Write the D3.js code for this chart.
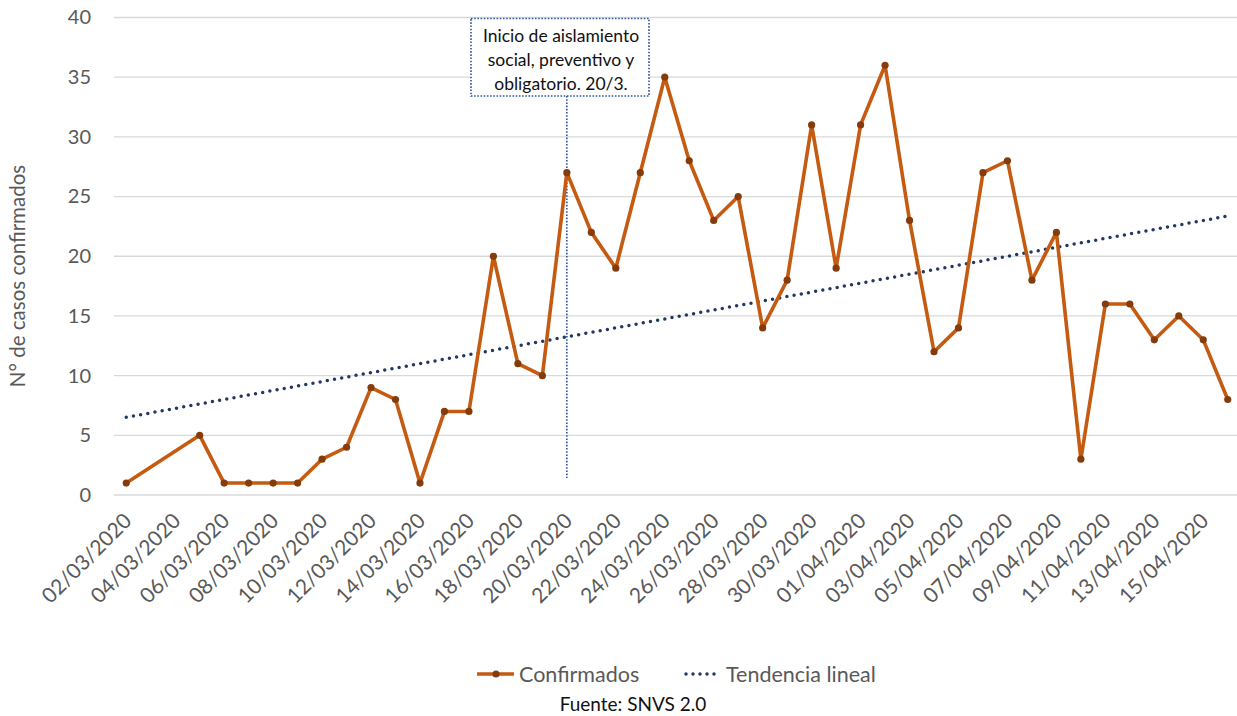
<!DOCTYPE html>
<html>
<head>
<meta charset="utf-8">
<script src="https://cdn.jsdelivr.net/npm/d3@7"></script>
<style>
  html, body { margin: 0; padding: 0; background: #fff; }
  svg { display: block; }
  text { font-family: Lato, "Open Sans", sans-serif; }
</style>
</head>
<body>
<svg id="chart" width="1237" height="716"></svg>
<script>
// Daily confirmed cases (dd/mm/yyyy)
const dates = [
  "02/03/2020", "05/03/2020", "06/03/2020", "07/03/2020", "08/03/2020", "09/03/2020",
  "10/03/2020", "11/03/2020", "12/03/2020", "13/03/2020", "14/03/2020", "15/03/2020",
  "16/03/2020", "17/03/2020", "18/03/2020", "19/03/2020", "20/03/2020", "21/03/2020",
  "22/03/2020", "23/03/2020", "24/03/2020", "25/03/2020", "26/03/2020", "27/03/2020",
  "28/03/2020", "29/03/2020", "30/03/2020", "31/03/2020", "01/04/2020", "02/04/2020",
  "03/04/2020", "04/04/2020", "05/04/2020", "06/04/2020", "07/04/2020", "08/04/2020",
  "09/04/2020", "10/04/2020", "11/04/2020", "12/04/2020", "13/04/2020", "14/04/2020",
  "15/04/2020", "16/04/2020"
];
const confirmados = [
  1, 5, 1, 1, 1, 1,
  3, 4, 9, 8, 1, 7,
  7, 20, 11, 10, 27, 22,
  19, 27, 35, 28, 23, 25,
  14, 18, 31, 19, 31, 36,
  23, 12, 14, 27, 28, 18,
  22, 3, 16, 16, 13, 15,
  13, 8
];
const xTickLabels = [
  "02/03/2020", "04/03/2020", "06/03/2020", "08/03/2020", "10/03/2020", "12/03/2020",
  "14/03/2020", "16/03/2020", "18/03/2020", "20/03/2020", "22/03/2020", "24/03/2020",
  "26/03/2020", "28/03/2020", "30/03/2020", "01/04/2020", "03/04/2020", "05/04/2020",
  "07/04/2020", "09/04/2020", "11/04/2020", "13/04/2020", "15/04/2020"
];
const yTicks = [0, 5, 10, 15, 20, 25, 30, 35, 40];
const axisStart = "02/03/2020";
const axisEnd = "16/04/2020";
const markerDate = "20/03/2020";
const annotationLines = ["Inicio de aislamiento", "social, preventivo y", "obligatorio. 20/3."];
const legendLabels = ["Confirmados", "Tendencia lineal"];
const sourceText = "Fuente: SNVS 2.0";
const yTitle = "N° de casos confirmados";

const parse = d3.utcParse("%d/%m/%Y");
const DAY = 864e5;
const halfDay = DAY / 2;

const colors = {
  line: "#C55A11",
  marker: "#843C0C",
  trend: "#203864",
  note: "#2F5597",
  grid: "#d9d9d9",
  axisText: "#595959"
};

const svg = d3.select("#chart");
const plot = { left: 114, right: 1240, top: 17.5, bottom: 495 };

// Date axis: each day occupies one slot, points drawn at slot centres
const x = d3.scaleUtc()
  .domain([new Date(+parse(axisStart) - halfDay), new Date(+parse(axisEnd) + halfDay)])
  .range([plot.left, plot.right]);
const y = d3.scaleLinear().domain([0, 40]).range([plot.bottom, plot.top]);

const points = dates.map((d, i) => ({ date: parse(d), value: confirmados[i] }));

// Horizontal gridlines
svg.append("g")
  .selectAll("line")
  .data(yTicks)
  .join("line")
  .attr("x1", plot.left).attr("x2", plot.right)
  .attr("y1", d => y(d)).attr("y2", d => y(d))
  .attr("stroke", colors.grid).attr("stroke-width", 1.3);

// Y axis labels
const yAxis = d3.axisLeft(y).tickValues(yTicks).tickSize(0).tickPadding(0);
svg.append("g")
  .attr("transform", `translate(${plot.left - 23},0)`)
  .call(yAxis)
  .call(g => g.select(".domain").remove())
  .call(g => g.selectAll("text")
    .attr("fill", colors.axisText)
    .attr("font-size", 20)
    .attr("font-family", "Lato, 'Open Sans', sans-serif"));

// X axis labels (rotated)
const xAxis = d3.axisBottom(x)
  .tickValues(xTickLabels.map(parse))
  .tickFormat(d3.utcFormat("%d/%m/%Y"))
  .tickSize(0);
svg.append("g")
  .attr("transform", `translate(0,${plot.bottom})`)
  .call(xAxis)
  .call(g => g.select(".domain").remove())
  .call(g => g.selectAll("text")
    .attr("fill", colors.axisText)
    .attr("font-size", 21)
    .attr("font-family", "Lato, 'Open Sans', sans-serif")
    .attr("text-anchor", "end")
    .attr("dy", "0.35em")
    .attr("y", 0)
    .attr("transform", "translate(1,22) rotate(-45)"));

// Y axis title
svg.append("text")
  .attr("transform", `translate(25,${276}) rotate(-90)`)
  .attr("text-anchor", "middle")
  .attr("fill", colors.axisText)
  .attr("font-size", 20.5)
  .text(yTitle);

// Linear trend (least squares over day number)
const xs = points.map(p => +p.date / DAY);
const ys = points.map(p => p.value);
const mx = d3.mean(xs), my = d3.mean(ys);
const slope = d3.sum(xs, (v, i) => (v - mx) * (ys[i] - my)) / d3.sum(xs, v => (v - mx) ** 2);
const intercept = my - slope * mx;
const trendEnds = [parse(axisStart), parse(axisEnd)].map(d => ({
  date: d, value: intercept + slope * (+d / DAY)
}));

const line = d3.line().x(d => x(d.date)).y(d => y(d.value));

svg.append("path")
  .datum(trendEnds)
  .attr("d", line)
  .attr("fill", "none")
  .attr("stroke", colors.trend)
  .attr("stroke-width", 3.5)
  .attr("stroke-linecap", "round")
  .attr("stroke-dasharray", "0 7.3");

// Annotation: start of lockdown
const mX = x(parse(markerDate));
const box = { x: 471, y: 18.5, w: 178, h: 77.5 };
svg.append("line")
  .attr("x1", mX).attr("x2", mX)
  .attr("y1", box.y + box.h).attr("y2", 478)
  .attr("stroke", colors.note).attr("stroke-width", 1.6)
  .attr("stroke-dasharray", "1.6 1.6");
svg.append("rect")
  .attr("x", box.x).attr("y", box.y).attr("width", box.w).attr("height", box.h)
  .attr("fill", "#fff")
  .attr("stroke", colors.note).attr("stroke-width", 1.6)
  .attr("stroke-dasharray", "1.6 1.6");
svg.append("g")
  .selectAll("text")
  .data(annotationLines)
  .join("text")
  .attr("x", box.x + box.w / 2 + 1)
  .attr("y", (d, i) => 42 + i * 24)
  .attr("text-anchor", "middle")
  .attr("fill", "#111")
  .attr("font-size", 17.5)
  .text(d => d);

// Confirmed series
svg.append("path")
  .datum(points)
  .attr("d", line)
  .attr("fill", "none")
  .attr("stroke", colors.line)
  .attr("stroke-width", 3.6)
  .attr("stroke-linejoin", "round");

svg.append("g")
  .selectAll("circle")
  .data(points)
  .join("circle")
  .attr("cx", d => x(d.date))
  .attr("cy", d => y(d.value))
  .attr("r", 3.6)
  .attr("fill", colors.marker);

// Legend
const legend = svg.append("g");
const lg1 = legend.append("g").attr("transform", "translate(477,674)");
lg1.append("line").attr("x1", 0).attr("x2", 37).attr("y1", 0).attr("y2", 0)
  .attr("stroke", colors.line).attr("stroke-width", 3.6);
lg1.append("circle").attr("cx", 19).attr("cy", 0).attr("r", 3.6).attr("fill", colors.marker);
lg1.append("text").attr("x", 42).attr("y", 0).attr("dy", "0.35em")
  .attr("fill", colors.axisText).attr("font-size", 21.5).text(legendLabels[0]);

const lg2 = legend.append("g").attr("transform", "translate(684,674)");
lg2.append("line").attr("x1", 2).attr("x2", 36).attr("y1", 0).attr("y2", 0)
  .attr("stroke", colors.trend).attr("stroke-width", 3.5)
  .attr("stroke-linecap", "round").attr("stroke-dasharray", "0 7");
lg2.append("text").attr("x", 42).attr("y", 0).attr("dy", "0.35em")
  .attr("fill", colors.axisText).attr("font-size", 21.5).text(legendLabels[1]);

// Source
svg.append("text")
  .attr("x", 633).attr("y", 711)
  .attr("text-anchor", "middle")
  .attr("fill", "#111")
  .attr("font-size", 19)
  .text(sourceText);
</script>
</body>
</html>
